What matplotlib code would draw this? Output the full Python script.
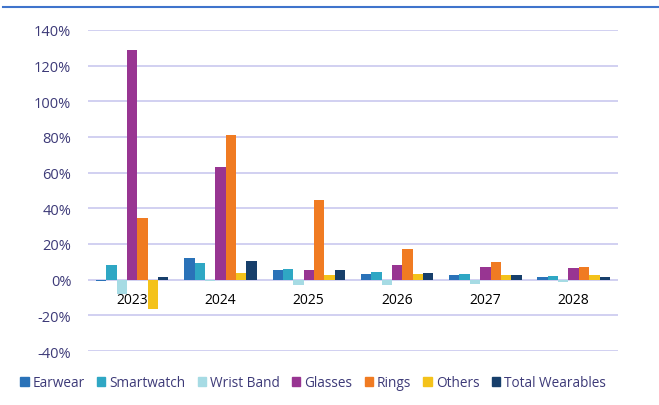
import numpy as np
import matplotlib
matplotlib.use("Agg")
import matplotlib.pyplot as plt
from matplotlib.lines import Line2D

plt.rcParams['font.family'] = ['Open Sans', 'DejaVu Sans']

years = ['2023', '2024', '2025', '2026', '2027', '2028']
series_names = ['Earwear', 'Smartwatch', 'Wrist Band', 'Glasses', 'Rings', 'Others', 'Total Wearables']

earwear = [-1, 12, 5.4, 3.4, 2.6, 1.5]
smartwatch = [8.4, 9.5, 6, 4.3, 3, 1.9]
wrist_band = [-8, -1, -3.2, -2.8, -2.2, -1.1]
glasses = [128.5, 63.4, 5.4, 8, 7.3, 6.3]
rings = [34.7, 81.2, 44.4, 17.4, 10, 7.3]
others = [-16.2, 3.7, 2.4, 3, 2.4, 2.4]
total = [1.7, 10.6, 5.6, 3.5, 2.6, 1.7]

colors = ['#2a72b8', '#2fa7c4', '#a6dbe4', '#983592', '#f07b22', '#f4c21a', '#173f6b']
text_col = '#3d3a78'
grid_col = '#c9c8ef'

data = [earwear, smartwatch, wrist_band, glasses, rings, others, total]

fig = plt.figure(figsize=(6.59, 4.06), dpi=100)
ax = fig.add_axes([0.1335, 0.133, 0.804, 0.791])

x = np.arange(len(years))
n = len(data)
w = 0.82 / n
for i, (vals, name, c) in enumerate(zip(data, series_names, colors)):
    ax.bar(x + (i - (n - 1) / 2) * w, vals, width=w, color=c, label=name, zorder=3)

ax.set_ylim(-40, 140)
ax.set_xlim(-0.5, len(years) - 0.5)
yt = np.arange(-40, 141, 20)
ax.set_yticks(yt)
ax.set_yticklabels([f'{v}%' for v in yt], color=text_col, fontsize=10.5)
ax.yaxis.grid(True, color=grid_col, linewidth=1.2, zorder=0)
ax.set_axisbelow(True)

ax.set_xticks(x)
ax.set_xticklabels(years, color=text_col, fontsize=11.5)
ax.spines['bottom'].set_position(('data', 0))
for s in ax.spines.values():
    s.set_visible(False)
ax.tick_params(axis='both', length=0)
ax.tick_params(axis='x', pad=9)
ax.tick_params(axis='y', pad=12)

handles = [plt.Rectangle((0, 0), 1, 1, color=c) for c in colors]
leg = fig.legend(handles, series_names, loc='center', bbox_to_anchor=(0.475, 0.055),
                 ncol=7, frameon=False, fontsize=9.8, handlelength=0.6, handleheight=0.6,
                 handletextpad=0.3, columnspacing=0.9)
for t in leg.get_texts():
    t.set_color(text_col)

fig.add_artist(Line2D([0.005, 1.0], [0.981, 0.981], color='#3f74cc', linewidth=1.5))

fig.savefig('out.png', dpi=100, facecolor='white')
